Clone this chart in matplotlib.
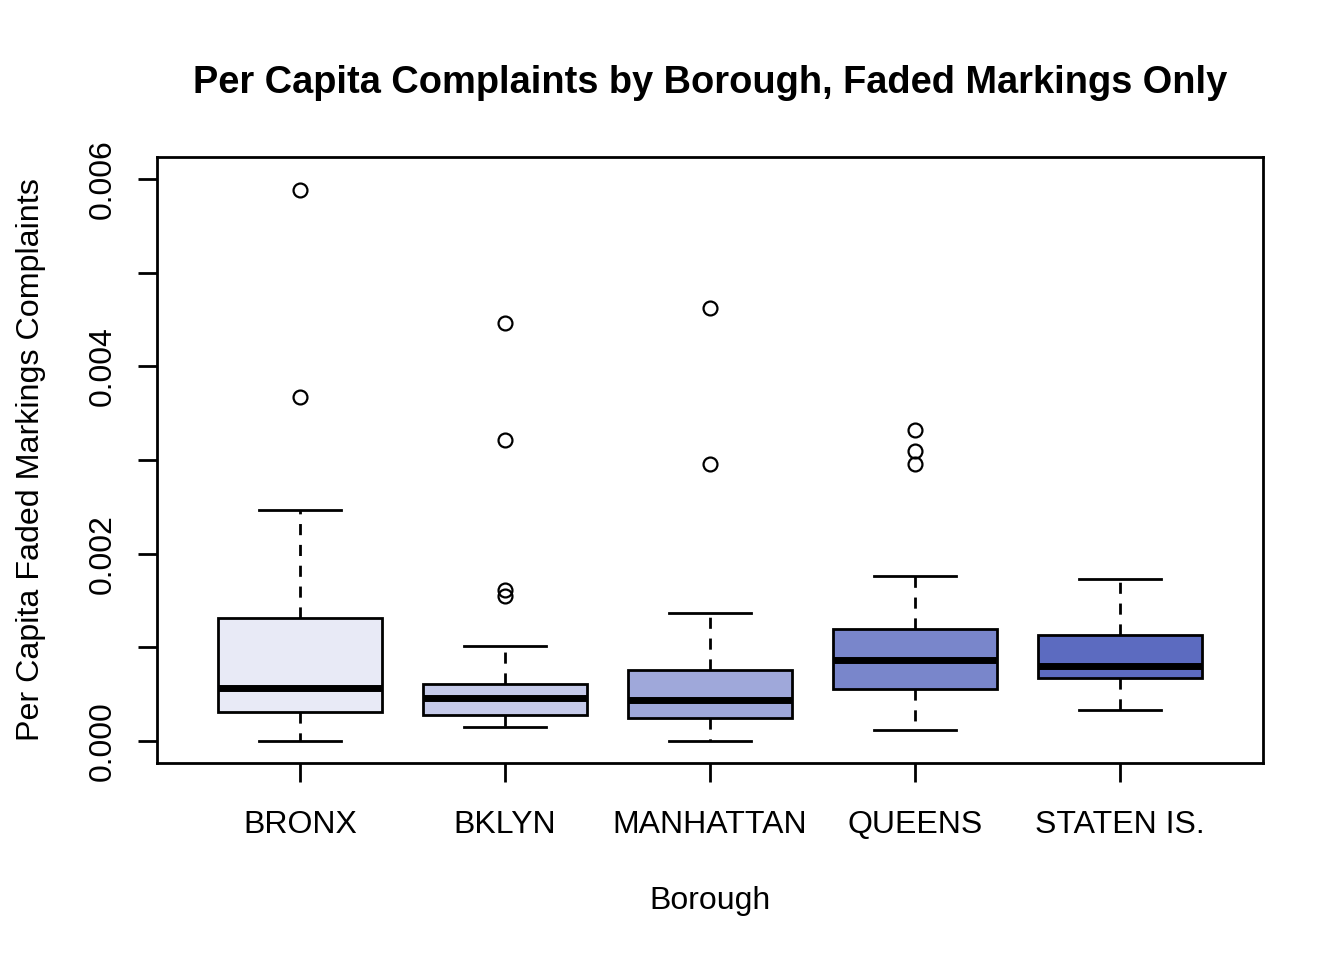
#!/usr/bin/env python3
"""Per capita faded-markings complaints by borough, R base boxplot look."""
import matplotlib
matplotlib.use("Agg")
import matplotlib.pyplot as plt

plt.rcParams["font.family"] = ["Liberation Sans", "DejaVu Sans"]

boroughs = ["BRONX", "BKLYN", "MANHATTAN", "QUEENS", "STATEN IS."]
whisker_lo = [0.0, 0.00015, 0.0, 0.00012, 0.00033]
q1 = [0.00031, 0.00028, 0.00025, 0.00056, 0.00067]
medians = [0.00057, 0.00046, 0.00044, 0.00086, 0.00080]
q3 = [0.00131, 0.00061, 0.00076, 0.00120, 0.00113]
whisker_hi = [0.00247, 0.00101, 0.00137, 0.00176, 0.00173]
outliers = [
    [0.00367, 0.00588],
    [0.00155, 0.00161, 0.00321, 0.00446],
    [0.00296, 0.00462],
    [0.00296, 0.00310, 0.00332],
    [],
]
box_colors = ["#E8EAF6", "#C5CAE9", "#9FA8DA", "#7986CB", "#5C6BC0"]
y_ticks = [0.0, 0.001, 0.002, 0.003, 0.004, 0.005, 0.006]
y_ticklabels = ["0.000", "", "0.002", "", "0.004", "", "0.006"]

stats = []
for i, name in enumerate(boroughs):
    stats.append({
        "label": name,
        "whislo": whisker_lo[i],
        "q1": q1[i],
        "med": medians[i],
        "q3": q3[i],
        "whishi": whisker_hi[i],
        "fliers": outliers[i],
    })

LW = 2.0
fig = plt.figure(figsize=(13.44, 9.6), dpi=100)
ax = fig.add_axes([157 / 1344, 1 - 763 / 960, (1263 - 157) / 1344, (763 - 157) / 960])

bp = ax.bxp(
    stats,
    positions=range(1, len(boroughs) + 1),
    widths=0.8,
    patch_artist=True,
    boxprops=dict(linewidth=LW, edgecolor="black"),
    medianprops=dict(color="black", linewidth=5, solid_capstyle="butt"),
    whiskerprops=dict(color="black", linewidth=LW, linestyle=(0, (4, 3.5))),
    capprops=dict(color="black", linewidth=LW),
    flierprops=dict(marker="o", markersize=10, markerfacecolor="none",
                    markeredgecolor="black", markeredgewidth=1.6),
    capwidths=0.4,
)
for patch, c in zip(bp["boxes"], box_colors):
    patch.set_facecolor(c)

ax.set_xlim(0.3, 5.7)
ax.set_ylim(-0.000235, 0.006235)

ax.set_yticks(y_ticks)
ax.set_yticklabels(y_ticklabels, rotation=90, va="center")
ax.set_xticks(range(1, len(boroughs) + 1))
ax.set_xticklabels(boroughs)
ax.tick_params(axis="both", direction="out", length=14, width=LW, labelsize=23, colors="black")
ax.tick_params(axis="y", pad=14)
ax.tick_params(axis="x", pad=20)
for sp in ax.spines.values():
    sp.set_linewidth(LW)

ax.set_xlabel("Borough", fontsize=23, labelpad=33)
ax.set_ylabel("Per Capita Faded Markings Complaints", fontsize=23.2, labelpad=30)
ax.set_title("Per Capita Complaints by Borough, Faded Markings Only",
             fontsize=27.4, fontweight="bold", pad=46)

fig.savefig("out.png", dpi=100)
